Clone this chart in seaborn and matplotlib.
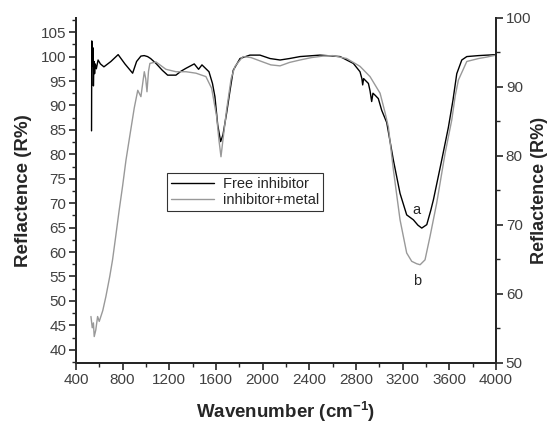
import numpy as np
import pandas as pd
import matplotlib
matplotlib.use("Agg")
import matplotlib.pyplot as plt
from matplotlib.ticker import MultipleLocator
import seaborn as sns

# spectrum (a): free inhibitor
wn_free = [534, 536, 542, 546, 550, 555, 560, 566, 575, 590, 610, 640, 700, 762, 820,
           886, 920, 957, 985, 1014, 1040, 1086, 1140, 1186, 1257, 1300, 1343, 1414,
           1451, 1480, 1540, 1570, 1591, 1615, 1640, 1660, 1691, 1720, 1748, 1806,
           1891, 1977, 2063, 2149, 2230, 2320, 2491, 2663, 2777, 2834, 2850, 2857,
           2865, 2877, 2906, 2920, 2934, 2945, 2963, 2991, 3020, 3063, 3120, 3177,
           3234, 3291, 3330, 3363, 3406, 3440, 3463, 3534, 3591, 3630, 3663, 3706,
           3749, 3850, 4000]
r_free = [84.8, 103.2, 98.0, 101.8, 94.0, 99.0, 96.5, 98.5, 97.5, 99.3, 98.5, 97.9, 99.0,
          100.4, 98.5, 96.6, 99.0, 100.1, 100.2, 100.0, 99.6, 98.6, 97.2, 96.2, 96.2,
          97.0, 97.6, 98.5, 97.4, 98.3, 96.9, 94.5, 91.8, 86.0, 82.6, 84.0, 88.4, 93.0,
          97.2, 99.6, 100.3, 100.3, 99.6, 99.3, 99.6, 100.0, 100.3, 100.0, 98.6, 96.9,
          95.5, 94.2, 95.5, 95.2, 94.5, 93.0, 90.8, 92.5, 92.1, 91.4, 89.0, 86.5, 78.8,
          72.0, 67.6, 66.6, 65.5, 64.9, 65.6, 68.5, 70.7, 78.8, 85.5, 91.0, 96.5, 99.3,
          100.0, 100.2, 100.4]

# spectrum (b): inhibitor + metal
wn_metal = [529, 540, 550, 557, 570, 586, 600, 630, 657, 690, 714, 740, 771, 800, 829,
            860, 900, 930, 957, 975, 986, 998, 1009, 1022, 1034, 1086, 1171, 1257,
            1343, 1429, 1514, 1563, 1606, 1625, 1643, 1660, 1691, 1730, 1763, 1831,
            1900, 1990, 2070, 2149, 2230, 2320, 2420, 2517, 2600, 2720, 2834, 2920,
            3006, 3049, 3077, 3120, 3177, 3234, 3277, 3320, 3349, 3391, 3434, 3491,
            3563, 3620, 3650, 3677, 3749, 3850, 3920, 4000]
r_metal = [46.8, 44.5, 45.5, 42.7, 44.0, 46.8, 45.8, 48.0, 50.9, 55.0, 58.4, 63.0, 68.6,
           73.5, 78.8, 83.5, 89.5, 93.1, 91.8, 95.0, 96.9, 95.5, 92.8, 97.0, 98.6, 98.9,
           97.4, 96.9, 96.9, 96.6, 95.9, 93.5, 87.7, 83.0, 79.5, 83.0, 89.1, 95.5, 98.0,
           100.0, 99.8, 99.0, 98.3, 98.1, 98.8, 99.3, 99.8, 100.1, 100.2, 99.6, 98.0,
           95.9, 92.5, 88.5, 85.6, 76.8, 66.6, 59.8, 58.1, 57.6, 57.4, 58.4, 63.2, 70.0,
           80.2, 87.0, 92.0, 95.2, 99.0, 99.6, 99.9, 100.3]

series_names = ["Free inhibitor", "inhibitor+metal"]
series_colors = ["#000000", "#999999"]

df = pd.concat([
    pd.DataFrame({"wn": wn_free, "R": r_free, "sample": series_names[0]}),
    pd.DataFrame({"wn": wn_metal, "R": r_metal, "sample": series_names[1]}),
], ignore_index=True)

sns.set_style("ticks")
plt.rcParams["font.family"] = ["Liberation Sans", "DejaVu Sans"]
plt.rcParams["mathtext.fontset"] = "custom"
plt.rcParams["mathtext.rm"] = "Liberation Sans"
plt.rcParams["mathtext.bf"] = "Liberation Sans:bold"

fig = plt.figure(figsize=(5.5, 4.28), dpi=100)
ax = fig.add_axes([0.138, 0.152, 0.764, 0.806])

sns.lineplot(data=df, x="wn", y="R", hue="sample", palette=series_colors,
             sort=False, estimator=None, linewidth=1.0, ax=ax)

ax.set_xlim(400, 4000)
ax.set_ylim(37.3, 107.9)
ax.xaxis.set_major_locator(MultipleLocator(400))
ax.xaxis.set_minor_locator(MultipleLocator(200))
ax.yaxis.set_major_locator(MultipleLocator(5))
ax.yaxis.set_minor_locator(MultipleLocator(2.5))
ax.set_yticks(np.arange(40, 106, 5))

ax2 = ax.twinx()
ax2.set_ylim(50, 100)
ax2.yaxis.set_major_locator(MultipleLocator(10))
ax2.yaxis.set_minor_locator(MultipleLocator(5))

for a in (ax, ax2):
    a.spines["top"].set_visible(False)
    for s in ("left", "right", "bottom"):
        a.spines[s].set_linewidth(1.4)
    a.tick_params(which="major", direction="out", length=5, width=1.2,
                  labelsize=11, labelcolor="#404040", pad=2)
    a.tick_params(which="minor", direction="out", length=3, width=1.0)

ax.set_xlabel(r"Wavenumber (cm$^{\mathbf{-1}}$)", fontsize=13.5, fontweight="bold", labelpad=9)
ax.set_ylabel("Reflactence (R%)", fontsize=13.5, fontweight="bold", labelpad=6)
ax2.set_ylabel("Reflactence (R%)", fontsize=13, fontweight="bold", labelpad=0)

ax.text(3320, 68.6, "a", fontsize=10.5, ha="center", va="center")
ax.text(3320, 54.0, "b", fontsize=10.5, ha="center", va="center")

leg = ax.legend(loc="upper left", bbox_to_anchor=(0.217, 0.55), frameon=True,
                fancybox=False, edgecolor="black", fontsize=10.5, handlelength=3.0,
                handletextpad=0.6, borderpad=0.25, labelspacing=0.15, borderaxespad=0)
leg.get_frame().set_linewidth(0.8)
for line in leg.get_lines():
    line.set_linewidth(1.0)

fig.savefig("out.png", dpi=100)
